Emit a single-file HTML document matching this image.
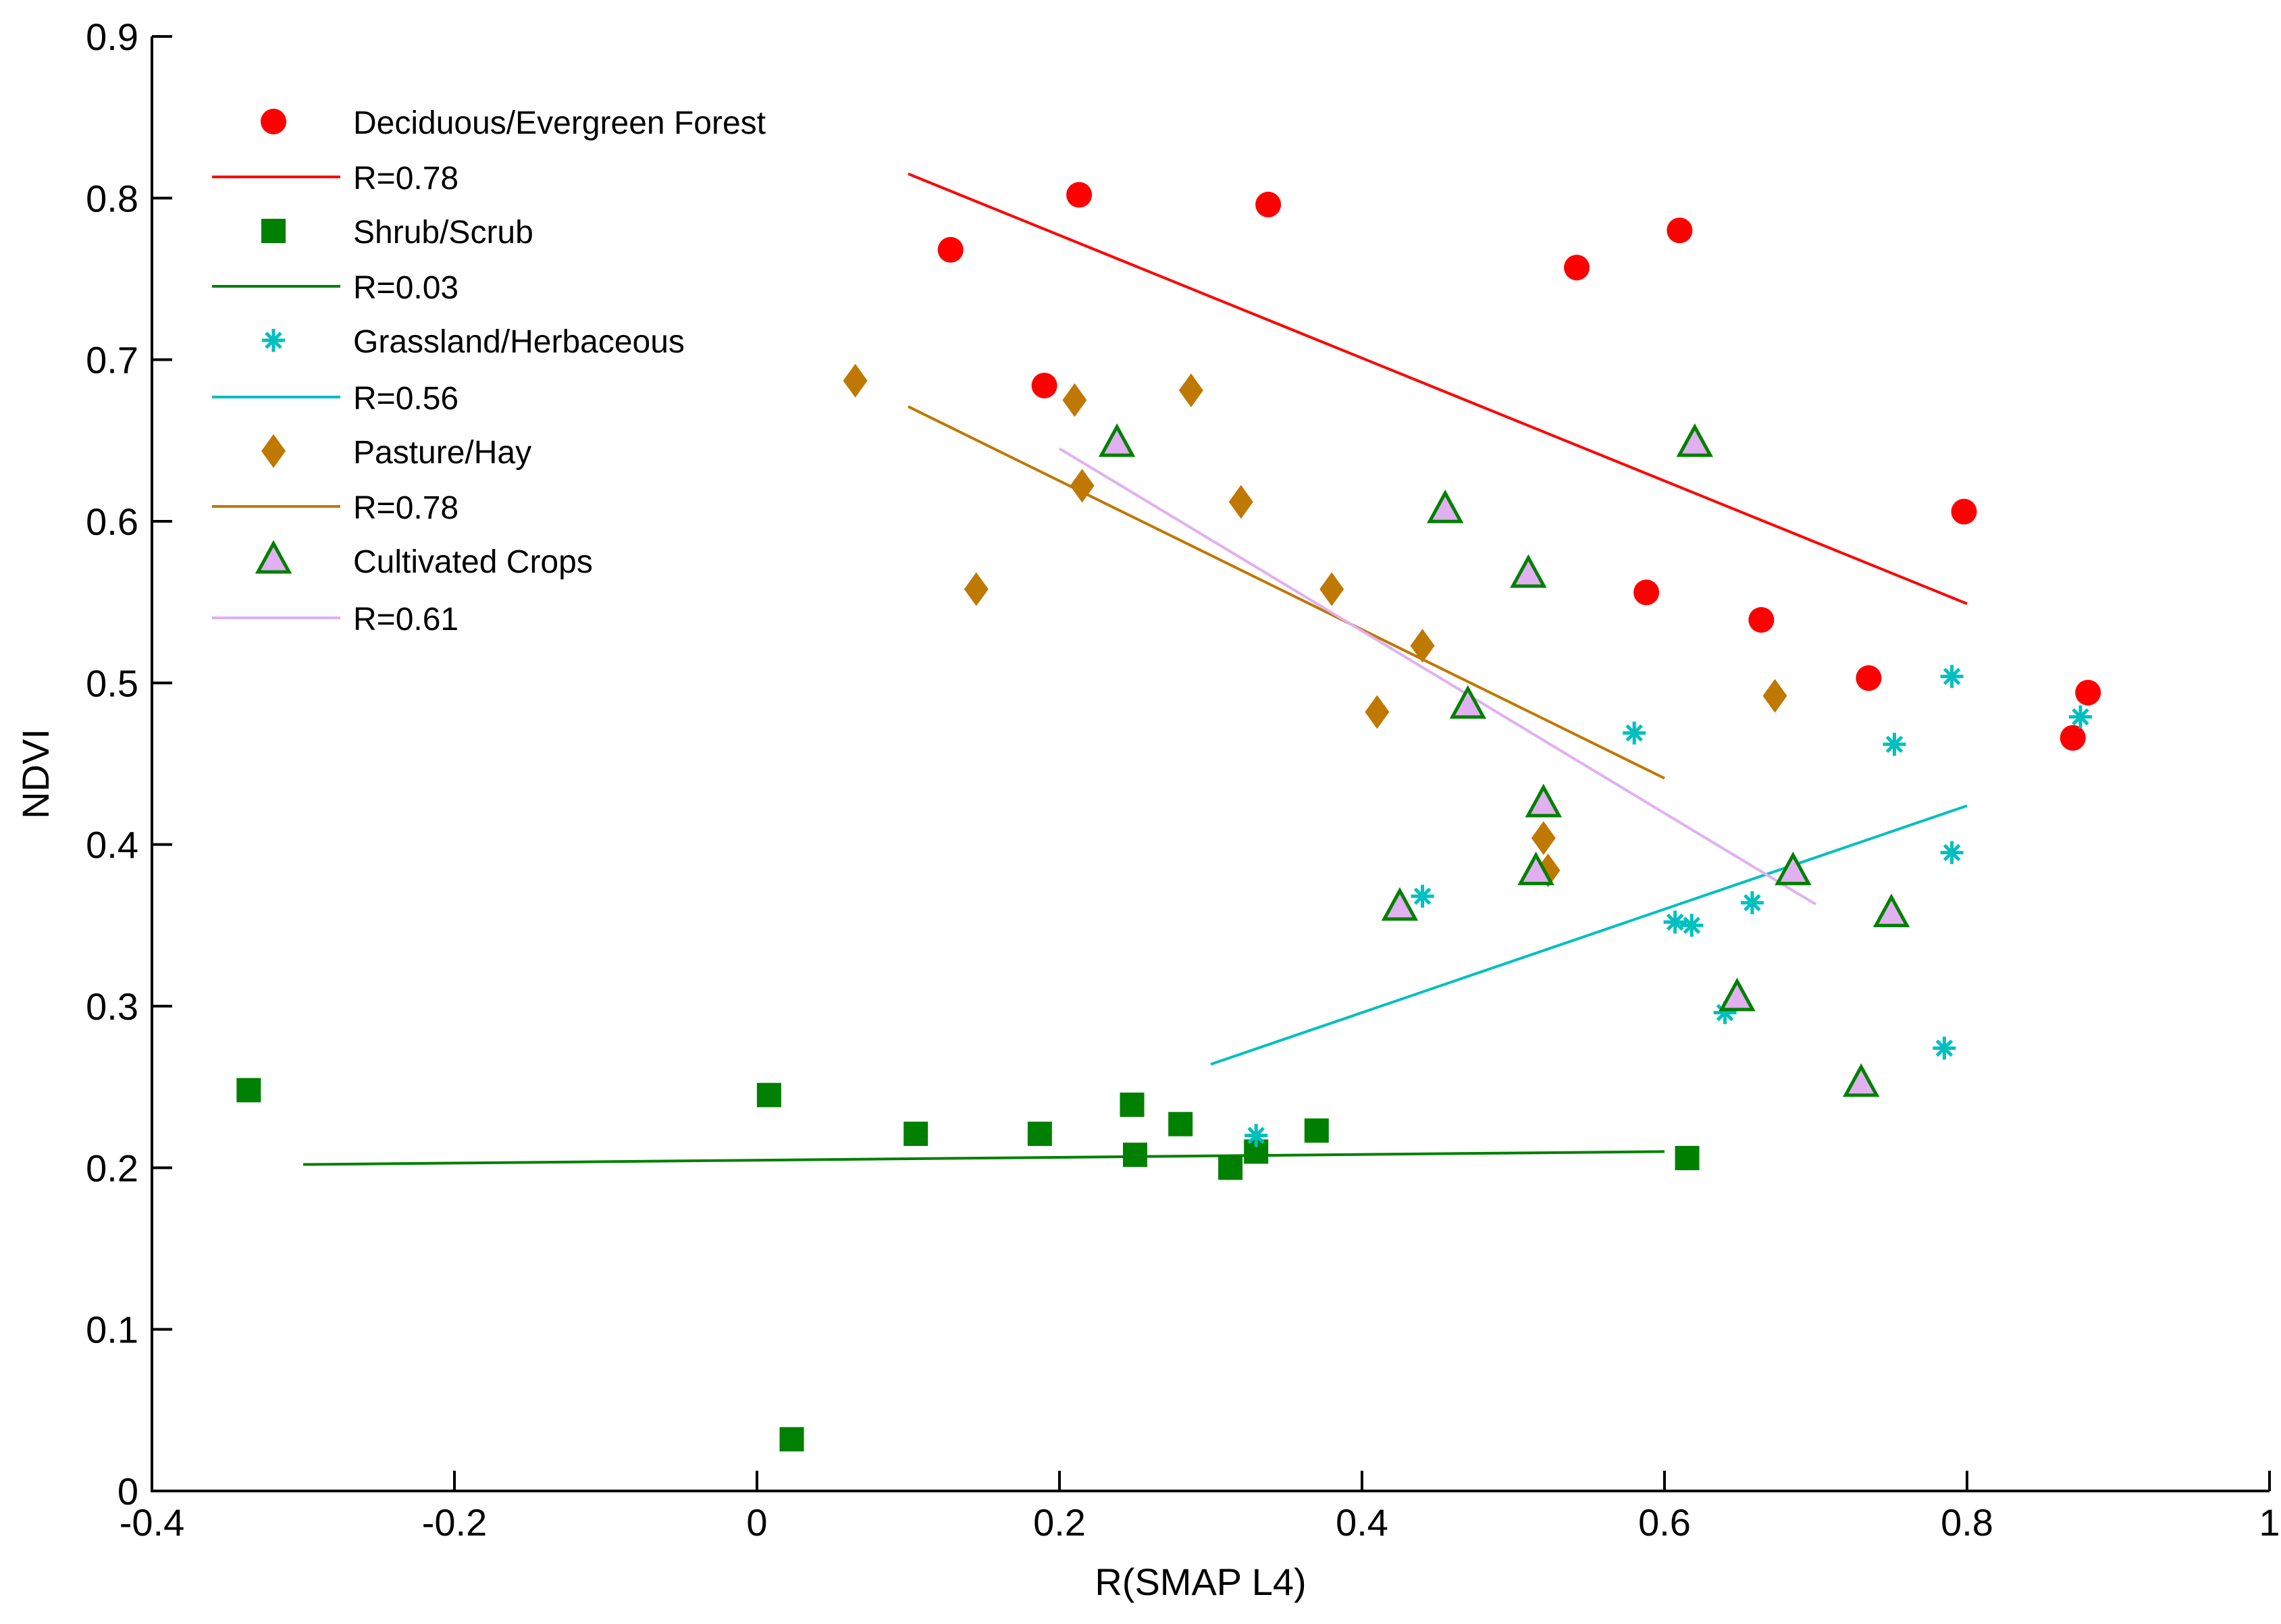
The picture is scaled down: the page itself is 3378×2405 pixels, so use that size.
<!DOCTYPE html>
<html><head><meta charset="utf-8"><style>
html,body{margin:0;padding:0;background:#fff;}
svg{display:block;font-family:"Liberation Sans",sans-serif;}
</style></head><body>
<svg id="chart" width="3378" height="2405" xmlns="http://www.w3.org/2000/svg">
<rect width="3378" height="2405" fill="#fff"/>
<g id="marks"></g>
<g id="axes"></g>
<g id="legend"></g>
</svg>
<script>
const xTicks=[-0.4,-0.2,0,0.2,0.4,0.6,0.8,1];
const xTickLabels=["-0.4","-0.2","0","0.2","0.4","0.6","0.8","1"];
const yTicks=[0,0.1,0.2,0.3,0.4,0.5,0.6,0.7,0.8,0.9];
const yTickLabels=["0","0.1","0.2","0.3","0.4","0.5","0.6","0.7","0.8","0.9"];
const forestX=[0.128,0.213,0.338,0.19,0.542,0.61,0.588,0.664,0.798,0.735,0.87,0.88];
const forestY=[0.768,0.802,0.796,0.684,0.757,0.78,0.556,0.539,0.606,0.503,0.466,0.494];
const forestFit=[[0.1,0.815],[0.8,0.549]];
const shrubX=[-0.336,0.008,0.105,0.187,0.248,0.25,0.28,0.313,0.33,0.37,0.615,0.023];
const shrubY=[0.248,0.245,0.221,0.221,0.239,0.208,0.227,0.2,0.21,0.223,0.206,0.032];
const shrubFit=[[-0.3,0.202],[0.6,0.21]];
const grassX=[0.33,0.44,0.58,0.607,0.618,0.64,0.658,0.752,0.79,0.79,0.785,0.875];
const grassY=[0.22,0.368,0.469,0.352,0.35,0.296,0.364,0.462,0.504,0.395,0.274,0.479];
const grassFit=[[0.3,0.264],[0.8,0.424]];
const pastureX=[0.065,0.145,0.21,0.215,0.287,0.32,0.38,0.41,0.44,0.52,0.523,0.673];
const pastureY=[0.687,0.558,0.675,0.622,0.681,0.612,0.558,0.482,0.523,0.404,0.384,0.492];
const pastureFit=[[0.1,0.671],[0.6,0.441]];
const cropsX=[0.238,0.455,0.51,0.47,0.52,0.425,0.515,0.62,0.685,0.648,0.75,0.73];
const cropsY=[0.648,0.607,0.567,0.486,0.425,0.361,0.383,0.648,0.383,0.305,0.357,0.252];
const cropsFit=[[0.2,0.645],[0.7,0.363]];

const NS="http://www.w3.org/2000/svg";
const L=225,R=3361,T=54,B=2208;
const xS=v=>L+(v+0.4)/1.4*(R-L);
const yS=v=>B-v/0.9*(B-T);
function mk(tag,attrs,parent){const e=document.createElementNS(NS,tag);for(const k in attrs)e.setAttribute(k,attrs[k]);parent.appendChild(e);return e;}
const marks=document.getElementById('marks'),axes=document.getElementById('axes'),legend=document.getElementById('legend');

function marker(type,cx,cy,parent){
  let e;
  if(type==='circle'){e=mk('circle',{cx:cx,cy:cy,r:19,fill:'#ff0000'},parent);}
  else if(type==='square'){e=mk('rect',{x:cx-18,y:cy-18,width:36,height:36,fill:'#008000'},parent);}
  else if(type==='diamond'){e=mk('polygon',{points:`${cx},${cy-25} ${cx+18},${cy} ${cx},${cy+25} ${cx-18},${cy}`,fill:'#bf7800'},parent);}
  else if(type==='tri'){e=mk('polygon',{points:`${cx},${cy-25} ${cx+23},${cy+17} ${cx-23},${cy+17}`,fill:'#e0b0f0',stroke:'#008000','stroke-width':5},parent);}
  else {e=mk('g',{stroke:'#00bfbf','stroke-width':5},parent);
    mk('line',{x1:cx-17,y1:cy,x2:cx+17,y2:cy},e);mk('line',{x1:cx,y1:cy-17,x2:cx,y2:cy+17},e);
    mk('line',{x1:cx-11,y1:cy-11,x2:cx+11,y2:cy+11},e);mk('line',{x1:cx-11,y1:cy+11,x2:cx+11,y2:cy-11},e);}
  return e;
}
const series=[
 {n:'forest',xs:forestX,ys:forestY,fit:forestFit,m:'circle',c:'#ff0000',lab:'Deciduous/Evergreen Forest',r:'R=0.78'},
 {n:'shrub',xs:shrubX,ys:shrubY,fit:shrubFit,m:'square',c:'#008000',lab:'Shrub/Scrub',r:'R=0.03'},
 {n:'grassland',xs:grassX,ys:grassY,fit:grassFit,m:'star',c:'#00bfbf',lab:'Grassland/Herbaceous',r:'R=0.56'},
 {n:'pasture',xs:pastureX,ys:pastureY,fit:pastureFit,m:'diamond',c:'#bf7800',lab:'Pasture/Hay',r:'R=0.78'},
 {n:'crops',xs:cropsX,ys:cropsY,fit:cropsFit,m:'tri',c:'#e0b0f0',lab:'Cultivated Crops',r:'R=0.61'}
];
series.forEach((s,si)=>{
  const ln=mk('line',{x1:xS(s.fit[0][0]),y1:yS(s.fit[0][1]),x2:xS(s.fit[1][0]),y2:yS(s.fit[1][1]),stroke:s.c,'stroke-width':4},marks);
  
  
});
series.forEach(s=>{
  s.xs.forEach((x,i)=>{
    const e=marker(s.m,xS(x),yS(s.ys[i]),marks);
    
    
  });
});
// legend
const rowsY=[180,262,342,424,504,588,668,750,830,915];
series.forEach((s,si)=>{
  const y1=rowsY[si*2],y2=rowsY[si*2+1];
  const m=marker(s.m,405,y1,legend);
  
  
  const t1=mk('text',{x:523,y:y1+18,'font-size':48,fill:'#000'},legend);t1.textContent=s.lab;
  
  
  const l=mk('line',{x1:314,y1:y2,x2:504,y2:y2,stroke:s.c,'stroke-width':4},legend);
  
  
  const t2=mk('text',{x:523,y:y2+18,'font-size':48,fill:'#000'},legend);t2.textContent=s.r;
  
  
});
// axes
const ax=mk('path',{d:`M${L},${T} V${B} H${R}`,fill:'none',stroke:'#000','stroke-width':4},axes);


xTicks.forEach((v,i)=>{
  const x=xS(v);
  const t=mk('line',{x1:x,y1:B,x2:x,y2:B-30,stroke:'#000','stroke-width':4},axes);
  
  
  const tl=mk('text',{x:x,y:B+66,'font-size':56,'text-anchor':'middle',fill:'#000'},axes);tl.textContent=xTickLabels[i];
  
  
});
yTicks.forEach((v,i)=>{
  const y=yS(v);
  const t=mk('line',{x1:L,y1:y,x2:L+30,y2:y,stroke:'#000','stroke-width':4},axes);
  
  
  const tl=mk('text',{x:L-20,y:y+20,'font-size':56,'text-anchor':'end',fill:'#000'},axes);tl.textContent=yTickLabels[i];
  
  
});
const xt=mk('text',{x:1778,y:2362,'font-size':56,'text-anchor':'middle',fill:'#000'},axes);xt.textContent='R(SMAP L4)';


const yt=mk('text',{x:0,y:0,'font-size':56,'text-anchor':'middle',fill:'#000',transform:'translate(72,1146) rotate(-90)'},axes);yt.textContent='NDVI';


</script>
</body></html>
